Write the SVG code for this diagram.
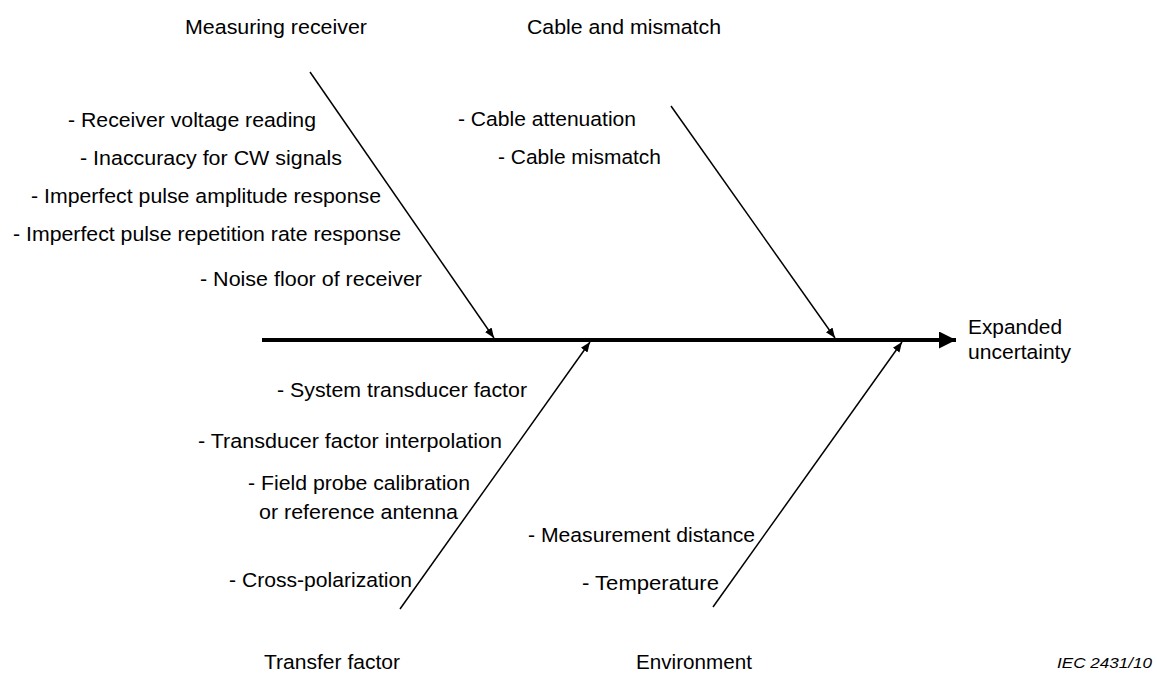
<svg xmlns="http://www.w3.org/2000/svg" width="1157" height="673" viewBox="0 0 1157 673">
<defs>
<style>
text{font-family:"Liberation Sans",Arial,sans-serif;font-size:20.5px;fill:#000}
.ital{font-style:italic;font-size:14px}
.br{stroke:#000;stroke-width:1.5;fill:none}
.spine{stroke:#000;stroke-width:4;fill:none}
</style>
<marker id="ah" viewBox="0 0 10 10" refX="10" refY="5" markerWidth="10" markerHeight="10" markerUnits="userSpaceOnUse" orient="auto"><path d="M0,1 L10,5 L0,9 Z" fill="#000"/></marker>
<marker id="big" viewBox="0 0 10 10" refX="10" refY="5" markerWidth="17" markerHeight="17" markerUnits="userSpaceOnUse" orient="auto"><path d="M0,0 L10,5 L0,10 Z" fill="#000"/></marker>
</defs>
<g id="connectors">
<line class="spine" x1="262" y1="340" x2="956" y2="340" marker-end="url(#big)"/>
<line class="br" x1="310" y1="72" x2="494" y2="338" marker-end="url(#ah)"/>
<line class="br" x1="671" y1="106" x2="835" y2="338" marker-end="url(#ah)"/>
<line class="br" x1="400" y1="609" x2="590" y2="342" marker-end="url(#ah)"/>
<line class="br" x1="713" y1="607" x2="902" y2="342" marker-end="url(#ah)"/>
</g>
<g id="measuring-receiver">
<text x="185" y="34" textLength="182" lengthAdjust="spacingAndGlyphs">Measuring receiver</text>
<text x="68" y="127" textLength="248" lengthAdjust="spacingAndGlyphs">- Receiver voltage reading</text>
<text x="80" y="165" textLength="262" lengthAdjust="spacingAndGlyphs">- Inaccuracy for CW signals</text>
<text x="31" y="203" textLength="350" lengthAdjust="spacingAndGlyphs">- Imperfect pulse amplitude response</text>
<text x="13" y="241" textLength="388" lengthAdjust="spacingAndGlyphs">- Imperfect pulse repetition rate response</text>
<text x="200" y="286" textLength="222" lengthAdjust="spacingAndGlyphs">- Noise floor of receiver</text>
</g>
<g id="cable-and-mismatch">
<text x="527" y="34" textLength="194" lengthAdjust="spacingAndGlyphs">Cable and mismatch</text>
<text x="458" y="126" textLength="178" lengthAdjust="spacingAndGlyphs">- Cable attenuation</text>
<text x="498" y="164" textLength="163" lengthAdjust="spacingAndGlyphs">- Cable mismatch</text>
</g>
<g id="expanded-uncertainty">
<text x="968" y="334" textLength="94" lengthAdjust="spacingAndGlyphs">Expanded</text>
<text x="968" y="359" textLength="103" lengthAdjust="spacingAndGlyphs">uncertainty</text>
</g>
<g id="transfer-factor">
<text x="277" y="397" textLength="250" lengthAdjust="spacingAndGlyphs">- System transducer factor</text>
<text x="198" y="448" textLength="304" lengthAdjust="spacingAndGlyphs">- Transducer factor interpolation</text>
<text x="248" y="490" textLength="222" lengthAdjust="spacingAndGlyphs">- Field probe calibration</text>
<text x="259" y="519" textLength="199" lengthAdjust="spacingAndGlyphs">or reference antenna</text>
<text x="229" y="587" textLength="183" lengthAdjust="spacingAndGlyphs">- Cross-polarization</text>
<text x="264" y="669" textLength="136" lengthAdjust="spacingAndGlyphs">Transfer factor</text>
</g>
<g id="environment">
<text x="528" y="542" textLength="227" lengthAdjust="spacingAndGlyphs">- Measurement distance</text>
<text x="582" y="590" textLength="137" lengthAdjust="spacingAndGlyphs">- Temperature</text>
<text x="636" y="669" textLength="116" lengthAdjust="spacingAndGlyphs">Environment</text>
</g>
<g id="label">
<text class="ital" x="1057" y="668" textLength="95" lengthAdjust="spacingAndGlyphs">IEC  2431/10</text>
</g>
</svg>
